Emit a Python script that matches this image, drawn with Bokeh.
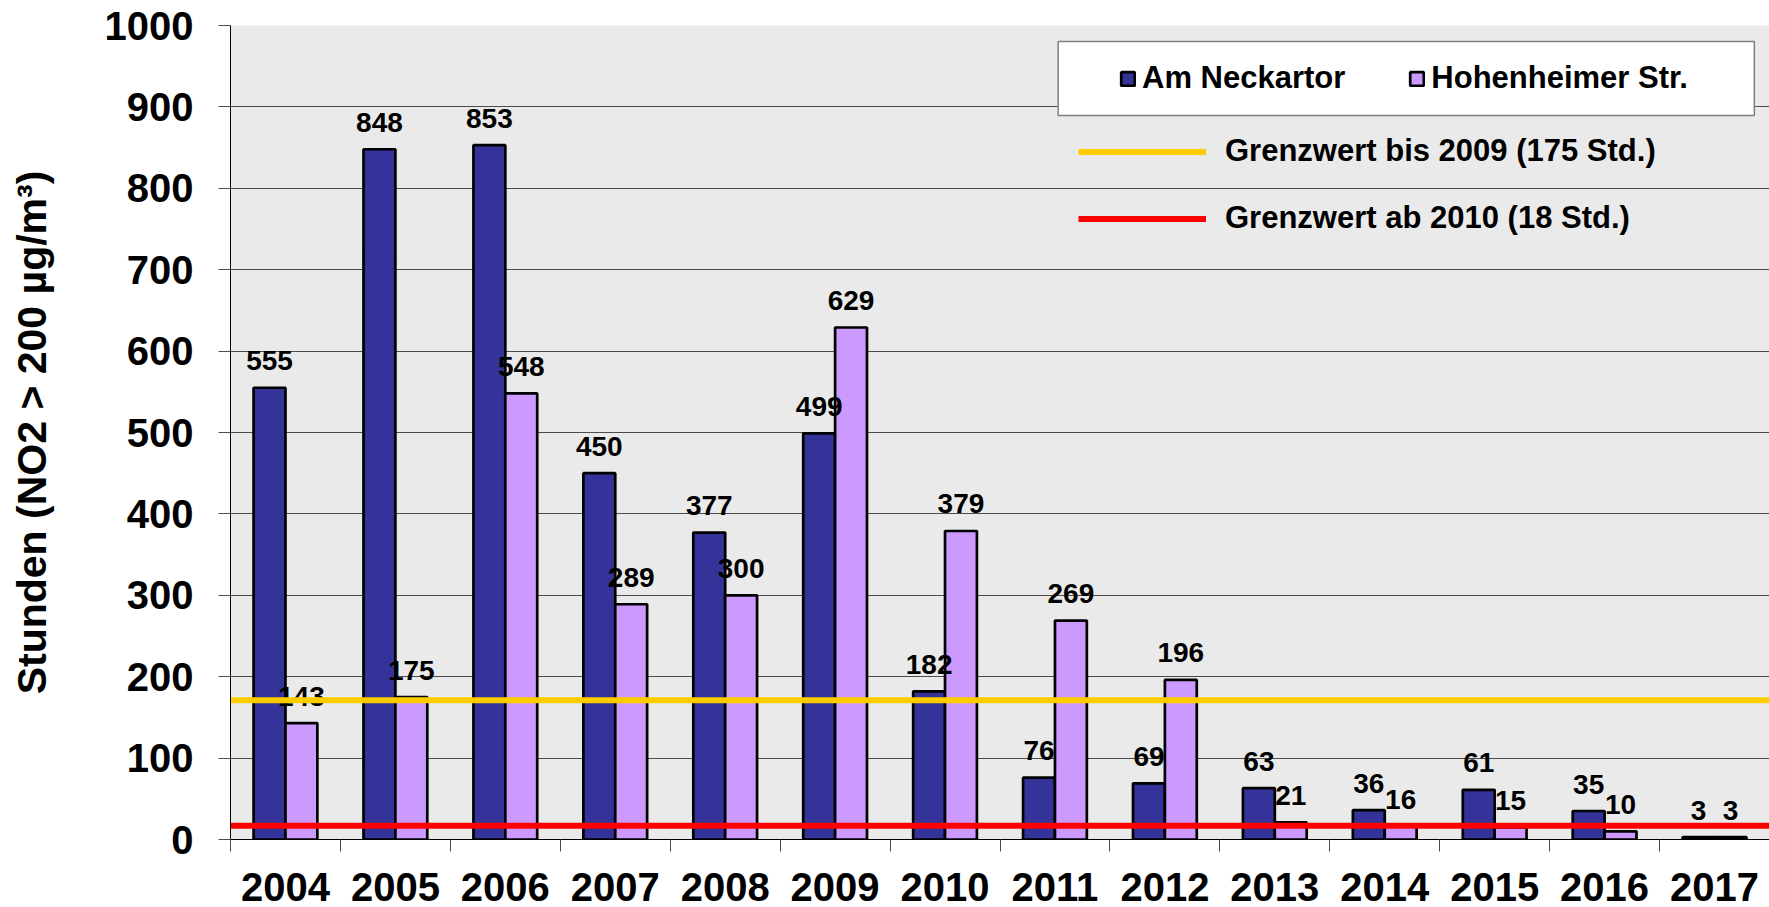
import numpy as np
from bokeh.plotting import figure
from bokeh.models import (ColumnDataSource, Range1d, FixedTicker, Legend,
                          LegendItem, BoxAnnotation)
from bokeh.core.properties import value
from bokeh.embed import file_html
from bokeh.resources import INLINE

# ---------------- data ----------------
years = ["2004", "2005", "2006", "2007", "2008", "2009", "2010",
         "2011", "2012", "2013", "2014", "2015", "2016", "2017"]
am_neckartor = [555, 848, 853, 450, 377, 499, 182, 76, 69, 63, 36, 61, 35, 3]
hohenheimer_str = [143, 175, 548, 289, 300, 629, 379, 269, 196, 21, 16, 15, 10, 3]
series_names = ["Am Neckartor", "Hohenheimer Str."]
limit_labels = ["Grenzwert bis 2009 (175 Std.)", "Grenzwert ab 2010 (18 Std.)"]
limit_levels = [171, 17]
y_ticks = [0, 100, 200, 300, 400, 500, 600, 700, 800, 900, 1000]
y_title = "Stunden (NO2 > 200 µg/m³)"

# ---------------- styling ----------------
FONT = "Liberation Sans"
DARK = "#333399"
LIGHT = "#CC99FF"
LIMIT_COLORS = ["#FFCC00", "#FF0000"]
GRID = "#4d4d4d"

n = len(years)
centers = np.arange(n) + 0.5
half = 0.145
src = ColumnDataSource(dict(
    xa=centers - half, xb=centers + half,
    a=am_neckartor, b=hohenheimer_str,
    la=[str(v) for v in am_neckartor], lb=[str(v) for v in hohenheimer_str],
))

p = figure(width=1769, height=907, output_backend="svg", toolbar_location=None,
           x_range=Range1d(0, n), y_range=Range1d(0, 1000),
           min_border_left=230, min_border_top=25, min_border_right=0,
           min_border_bottom=68)
p.background_fill_color = "#eaeaea"
p.border_fill_color = "white"
p.outline_line_color = None

ra = p.vbar(x="xa", top="a", bottom=0, width=0.29, source=src,
            fill_color=DARK, line_color="black", line_width=2.7)
rb = p.vbar(x="xb", top="b", bottom=0, width=0.29, source=src,
            fill_color=LIGHT, line_color="black", line_width=2.7)

for xc, yc, tc in (("xa", "a", "la"), ("xb", "b", "lb")):
    p.text(x=xc, y=yc, text=tc, source=src, y_offset=-27,
           text_align="center", text_baseline="alphabetic",
           text_font=value(FONT), text_font_style="bold",
           text_font_size="28px", text_color="black")

limit_renderers = []
for lvl, col in zip(limit_levels, LIMIT_COLORS):
    r = p.line(x=[0, n], y=[lvl, lvl], line_color=col, line_width=6)
    limit_renderers.append(r)

# y axis
p.yaxis.ticker = FixedTicker(ticks=y_ticks)
p.yaxis.major_label_text_font = FONT
p.yaxis.major_label_text_font_style = "bold"
p.yaxis.major_label_text_font_size = "40px"
p.yaxis.major_label_text_color = "black"
p.yaxis.major_label_standoff = 25
p.yaxis.major_tick_out = 12
p.yaxis.major_tick_in = 0
p.yaxis.minor_tick_out = 0
p.yaxis.minor_tick_in = 0
p.yaxis.major_tick_line_color = GRID
p.yaxis.axis_line_color = "black"
p.yaxis.axis_label = y_title
p.yaxis.axis_label_text_font = FONT
p.yaxis.axis_label_text_font_style = "bold"
p.yaxis.axis_label_text_font_size = "41px"
p.yaxis.axis_label_text_color = "black"
p.yaxis.axis_label_standoff = 47
p.ygrid.grid_line_color = GRID
p.ygrid.grid_line_width = 1
p.xgrid.grid_line_color = None

# x axis: labels at category centres, tick marks at boundaries
p.xaxis.ticker = FixedTicker(ticks=list(centers), minor_ticks=list(range(n + 1)))
p.xaxis.major_label_overrides = {float(c): y for c, y in zip(centers, years)}
p.xaxis.major_label_text_font = FONT
p.xaxis.major_label_text_font_style = "bold"
p.xaxis.major_label_text_font_size = "40px"
p.xaxis.major_label_text_color = "black"
p.xaxis.major_label_standoff = 21
p.xaxis.major_tick_out = 0
p.xaxis.major_tick_in = 0
p.xaxis.minor_tick_out = 12
p.xaxis.minor_tick_in = 0
p.xaxis.minor_tick_line_color = GRID
p.xaxis.axis_line_color = "black"

# legend box
box = BoxAnnotation(left=7.529, right=13.862, bottom=889.4, top=980.3,
                    fill_color="white", fill_alpha=1.0,
                    line_color="#7f7f7f", line_alpha=1.0, line_width=1.5)
p.add_layout(box)

leg1 = Legend(items=[LegendItem(label=series_names[0], renderers=[ra]),
                     LegendItem(label=series_names[1], renderers=[rb])],
              orientation="horizontal", location=(889, 743), padding=0,
              margin=0, spacing=63, glyph_width=17, glyph_height=17,
              label_standoff=6, label_height=36, label_width=200,
              label_text_font=FONT, label_text_font_style="bold",
              label_text_font_size="31px", label_text_color="black",
              background_fill_alpha=0, border_line_color=None)
p.add_layout(leg1, "center")

leg2 = Legend(items=[LegendItem(label=limit_labels[0], renderers=[limit_renderers[0]]),
                     LegendItem(label=limit_labels[1], renderers=[limit_renderers[1]])],
              orientation="vertical", location=(848, 603), padding=0,
              margin=0, spacing=31, glyph_width=128, glyph_height=17,
              label_standoff=19, label_height=36,
              label_text_font=FONT, label_text_font_style="bold",
              label_text_font_size="31px", label_text_color="black",
              background_fill_alpha=0, border_line_color=None)
p.add_layout(leg2, "center")

open("out.html", "w").write(file_html(p, INLINE))
